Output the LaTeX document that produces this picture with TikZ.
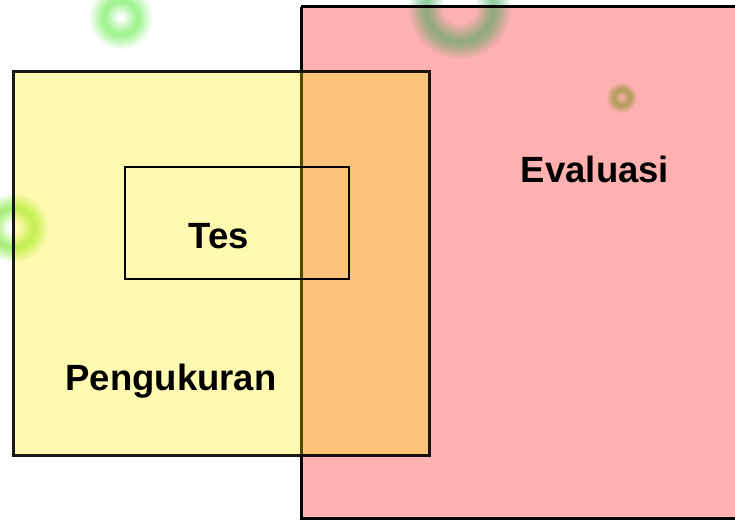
\documentclass[tikz,border=0pt]{standalone}
\usepackage{fontspec}
\setmainfont{Liberation Sans}
\definecolor{ringA}{RGB}{90,240,60}
\definecolor{ringB}{RGB}{60,170,90}
\definecolor{ringC}{RGB}{120,150,30}
\definecolor{ringD}{RGB}{110,230,20}
\begin{document}
\begin{tikzpicture}[x=1pt,y=-1pt,
  lbl/.style={font=\fontsize{36.5}{40}\selectfont\bfseries, text=black, inner sep=0pt},
  blurring/.style={draw=#1, draw opacity=0.085}]
\useasboundingbox (0,0) rectangle (735,519);
\fill[white] (0,0) rectangle (735,519);
% red evaluation box
\fill[red, fill opacity=0.31] (301,7) rectangle (740,518);
% blurred rings
\foreach \w in {2,5,8,11,14,17,20,24,28}{
  \draw[blurring=ringA, line width=\w] (121,18) circle (17);
  \draw[blurring=ringB, line width=1.2*\w] (460,8) circle (34);
  \draw[blurring=ringC, line width=0.5*\w] (622,98) circle (8);
  \draw[blurring=ringD, line width=\w] (14,228) circle (20);
}
\draw[line width=3] (301,7) -- (740,7);
\draw[line width=3] (301,7) -- (301,518) -- (740,518);
% yellow measurement box
\fill[yellow, fill opacity=0.31] (13,71) rectangle (429,455);
\draw[line width=3, draw opacity=0.9] (13,71) rectangle (429,455);
% test box
\draw[line width=2] (125,167) rectangle (349,279);
\node[lbl] (eval) at (595,169) {Evaluasi};
\node[lbl] (tes) at (219,236) {Tes};
\node[lbl] (peng) at (171,381) {Pengukuran};
\end{tikzpicture}
\end{document}
